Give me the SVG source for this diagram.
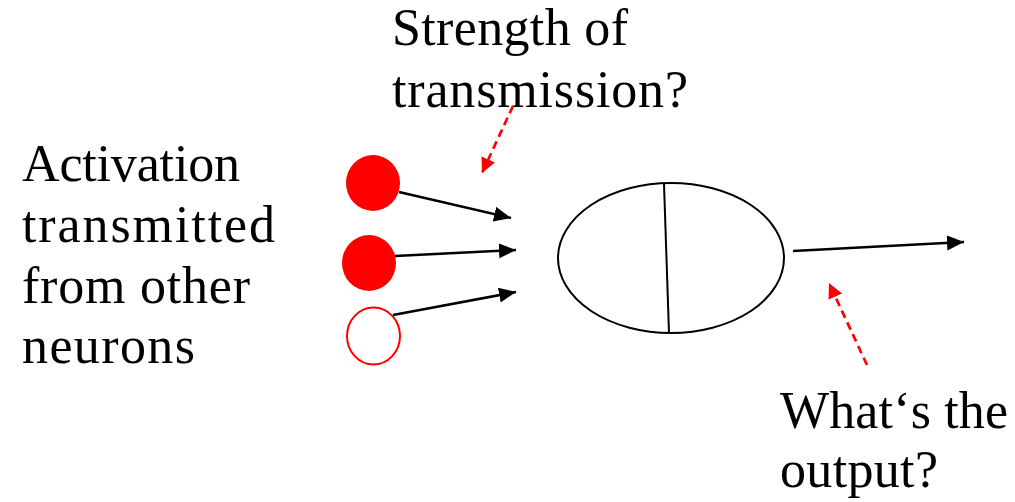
<svg xmlns="http://www.w3.org/2000/svg" width="1015" height="502" viewBox="0 0 1015 502">
  <style>
    .lbl { font-family: "Liberation Serif", "Times New Roman", serif; font-size: 52px; fill: #000; }
    .conn { stroke: #000; stroke-width: 2.5; fill: none; marker-end: url(#blk); }
    .hint { stroke: #ff0000; stroke-width: 2.7; fill: none; stroke-dasharray: 8 5; marker-end: url(#red); }
  </style>
  <defs>
    <marker id="blk" markerUnits="userSpaceOnUse" markerWidth="18" markerHeight="16" refX="17" refY="7.5" orient="auto">
      <path d="M0,0 L17,7.5 L0,15 z" fill="#000"/>
    </marker>
    <marker id="red" markerUnits="userSpaceOnUse" markerWidth="16" markerHeight="16" refX="15" refY="7.5" orient="auto">
      <path d="M0,0 L15,7.5 L0,15 z" fill="#ff0000"/>
    </marker>
  </defs>
  <rect width="1015" height="502" fill="#fff"/>

  <g id="label-activation">
    <text class="lbl" x="22" y="181" textLength="218">Activation</text>
    <text class="lbl" x="22" y="242" textLength="253">transmitted</text>
    <text class="lbl" x="22" y="303" textLength="228">from other</text>
    <text class="lbl" x="22" y="363" textLength="173">neurons</text>
  </g>
  <g id="label-strength">
    <text class="lbl" x="392" y="45" textLength="236">Strength of</text>
    <text class="lbl" x="392" y="107" textLength="296">transmission?</text>
  </g>
  <g id="label-output">
    <text class="lbl" x="780" y="428" textLength="228">What‘s the</text>
    <text class="lbl" x="780" y="487" textLength="158">output?</text>
  </g>

  <g id="input-1"><ellipse cx="373" cy="183" rx="27" ry="28" fill="#ff0000"/></g>
  <g id="input-2"><ellipse cx="369" cy="263" rx="27" ry="28" fill="#ff0000"/></g>
  <g id="input-3"><ellipse cx="373.5" cy="336" rx="26.5" ry="28.5" fill="#fff" stroke="#ff0000" stroke-width="2"/></g>

  <g id="neuron">
    <ellipse cx="671" cy="258" rx="113" ry="75" fill="#fff" stroke="#000" stroke-width="2"/>
    <line x1="664" y1="184" x2="669" y2="333" stroke="#000" stroke-width="2"/>
  </g>

  <g id="connectors">
    <line class="conn" x1="399" y1="192" x2="511" y2="218"/>
    <line class="conn" x1="395" y1="256" x2="516" y2="250"/>
    <line class="conn" x1="393" y1="315" x2="516" y2="292"/>
    <line class="conn" x1="793" y1="251" x2="964" y2="242"/>
    <line class="hint" x1="513" y1="106" x2="482" y2="173"/>
    <line class="hint" x1="867" y1="365" x2="829" y2="283"/>
  </g>
</svg>
